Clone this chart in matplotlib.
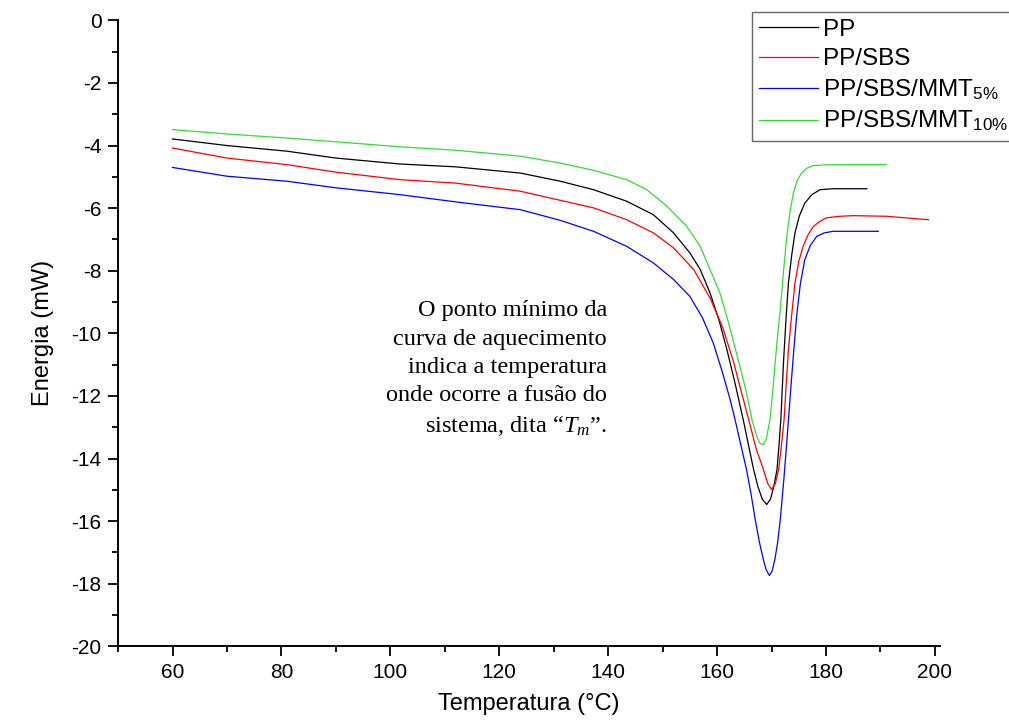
import matplotlib
matplotlib.use("Agg")
import matplotlib.pyplot as plt
from matplotlib.ticker import MultipleLocator

plt.rcParams['font.family'] = ['Liberation Sans', 'DejaVu Sans']
plt.rcParams['axes.unicode_minus'] = False
plt.rcParams['mathtext.fontset'] = 'custom'
plt.rcParams['mathtext.rm'] = 'Liberation Sans'
plt.rcParams['mathtext.it'] = 'Liberation Serif:italic'

# =====================================================
# DATA
# =====================================================

pp_t = [60, 70, 81, 90, 101.8, 112, 123.9, 131.2, 137.3, 143.4, 148.3, 152.0, 155.0,
        156.9, 158.7, 160.3, 161.8, 163.3, 164.8, 165.8, 166.7, 167.5, 168.3, 169.1,
        169.8, 170.4, 171.0, 171.4, 171.7, 172.2, 172.7, 173.1, 173.7, 174.3,
        175.1, 176.1, 177.4, 178.9, 181.3, 187.5]
pp_e = [-3.79, -4.0, -4.18, -4.4, -4.59, -4.68, -4.88, -5.14, -5.41, -5.78, -6.21, -6.79, -7.43,
        -7.96, -8.71, -9.55, -10.52, -11.6, -12.76, -13.6, -14.35, -14.9, -15.3, -15.47,
        -15.3, -14.9, -14.35, -13.5, -12.76, -10.9, -9.4, -8.39, -7.5, -6.79,
        -6.25, -5.84, -5.57, -5.41, -5.38, -5.38]

sbs_t = [60, 70, 81, 90, 101.8, 112, 123.9, 131.2, 137.3, 143.4, 148.3, 152.0, 155.7,
         158.7, 161.0, 163.0, 164.5, 165.8, 167.2, 168.5, 169.3, 170.0, 170.7, 171.3,
         171.8, 172.3, 172.7, 173.1, 173.7, 174.3, 175.0, 175.8, 176.7, 177.7,
         178.9, 180.1, 182.5, 185.0, 191.1, 198.8]
sbs_e = [-4.08, -4.4, -4.61, -4.85, -5.09, -5.2, -5.46, -5.75, -5.99, -6.37, -6.79, -7.27, -7.96,
         -8.87, -9.8, -10.9, -11.9, -12.76, -13.7, -14.35, -14.8, -14.99, -14.8, -14.35,
         -13.6, -12.76, -11.6, -10.52, -9.4, -8.39, -7.7, -7.22, -6.85, -6.58,
         -6.42, -6.31, -6.26, -6.24, -6.26, -6.37]

mmt5_t = [60, 70, 81, 90, 101.8, 112, 123.9, 131.2, 137.3, 143.4, 148.3, 152.0, 155.0,
          157.3, 159.3, 160.9, 162.4, 163.3, 164.4, 165.4, 166.2, 167.0, 167.8, 168.5,
          169.0, 169.6, 170.1, 170.6, 171.1, 171.6, 172.2, 172.7, 173.1, 173.6,
          174.1, 174.6, 175.3, 176.1, 177.1, 178.3, 179.7, 181.3, 185.0, 189.6]
mmt5_e = [-4.70, -4.98, -5.14, -5.35, -5.57, -5.8, -6.05, -6.39, -6.74, -7.22, -7.75, -8.28, -8.82,
          -9.5, -10.31, -11.2, -12.12, -12.76, -13.6, -14.35, -15.1, -15.95, -16.7, -17.23,
          -17.55, -17.74, -17.6, -17.23, -16.7, -15.95, -14.78, -13.7, -12.76, -11.6,
          -10.5, -9.46, -8.4, -7.65, -7.2, -6.9, -6.79, -6.74, -6.74, -6.74]

mmt10_t = [60, 70, 81, 90, 101.8, 112, 123.9, 131.2, 137.3, 143.4, 147.1, 150.8, 154.4,
           156.9, 158.7, 160.5, 162.0, 163.2, 164.4, 165.4, 166.4, 167.2, 167.8, 168.4,
           169.0, 169.7, 170.2, 170.6, 171.1, 171.6, 172.2, 172.8, 173.4, 174.0,
           174.7, 175.5, 176.5, 177.7, 179.5, 181.9, 186.0, 191.1]
mmt10_e = [-3.49, -3.63, -3.76, -3.88, -4.04, -4.15, -4.34, -4.56, -4.79, -5.09, -5.41, -5.94, -6.58,
           -7.22, -7.96, -8.7, -9.6, -10.4, -11.2, -11.9, -12.76, -13.25, -13.5, -13.56,
           -13.4, -12.76, -11.9, -11.05, -10.1, -9.24, -8.0, -6.9, -6.1, -5.52,
           -5.12, -4.88, -4.72, -4.64, -4.62, -4.61, -4.61, -4.61]

labels = ['PP', 'PP/SBS', 'PP/SBS/MMT$_{5\\%}$', 'PP/SBS/MMT$_{10\\%}$']
colors = ['black', 'red', 'blue', '#33dd33']

# =====================================================
# PLOT
# =====================================================

fig = plt.figure(figsize=(10.09, 7.27), dpi=100)
ax = fig.add_axes([0.117, 0.111, 0.815, 0.861])

series = [(pp_t, pp_e), (sbs_t, sbs_e), (mmt5_t, mmt5_e), (mmt10_t, mmt10_e)]
for (t, e), lab, col in zip(series, labels, colors):
    ax.plot(t, e, color=col, lw=0.9, label=lab)

ax.set_xlim(50, 201)
ax.set_ylim(-20, 0)
ax.xaxis.set_major_locator(MultipleLocator(20))
ax.xaxis.set_minor_locator(MultipleLocator(10))
ax.yaxis.set_major_locator(MultipleLocator(2))
ax.yaxis.set_minor_locator(MultipleLocator(1))

ax.spines['top'].set_visible(False)
ax.spines['right'].set_visible(False)
ax.spines['left'].set_linewidth(1.4)
ax.spines['bottom'].set_linewidth(1.4)
ax.tick_params(which='major', direction='out', length=7, width=1.3, labelsize=15, pad=5)
ax.tick_params(which='minor', direction='out', length=4, width=1.3)

ax.set_xlabel("Temperatura (°C)", fontsize=17, labelpad=8)
ax.set_ylabel("Energia (mW)", fontsize=17, labelpad=12)

ax.text(139.8, -8.95,
        "O ponto mínimo da\ncurva de aquecimento\nindica a temperatura\nonde ocorre a fusão do\nsistema, dita “$T_m$”.",
        ha='right', va='top', multialignment='right',
        family='Liberation Serif', fontsize=17.5, linespacing=1.45)

leg = ax.legend(loc='upper left', bbox_to_anchor=(0.771, 1.014), fontsize=17.5,
                frameon=True, fancybox=False, edgecolor='#444444',
                handlelength=2.4, handletextpad=0.2, labelspacing=0.3,
                borderpad=0.3, borderaxespad=0)
leg.get_frame().set_linewidth(1.0)

fig.savefig("out.png", dpi=100)
